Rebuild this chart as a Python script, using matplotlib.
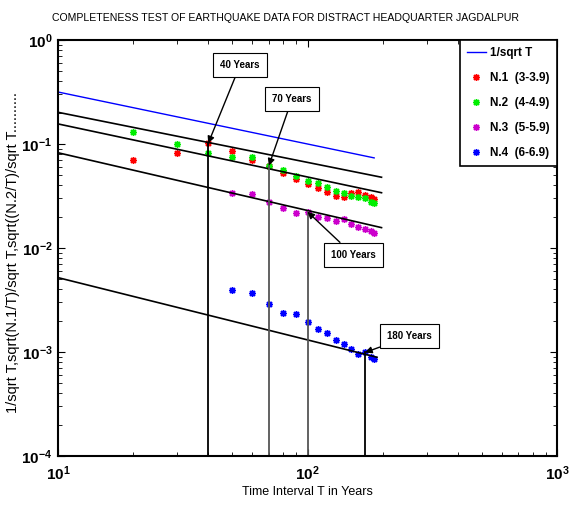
import matplotlib
matplotlib.use("Agg")
import matplotlib.pyplot as plt
import numpy as np
from matplotlib.ticker import LogLocator, FuncFormatter, NullFormatter

plt.rcParams['font.family'] = ['Liberation Sans', 'DejaVu Sans']
plt.rcParams['mathtext.fontset'] = 'custom'
plt.rcParams['mathtext.rm'] = 'Liberation Sans:bold'
plt.rcParams['mathtext.bf'] = 'Liberation Sans:bold'

# ---- data ----
T_ref = [10, 20, 30, 40, 50, 60, 70, 80, 90, 100, 110, 120, 130, 140, 150, 160, 170, 180, 185]
ref_vals = [1 / np.sqrt(t) for t in T_ref]

T_n12 = [20, 30, 40, 50, 60, 70, 80, 90, 100, 110, 120, 130, 140, 150, 160, 170, 180, 185]
n1 = [0.0702, 0.0813, 0.1015, 0.0863, 0.0702, 0.0619, 0.0523, 0.0461, 0.0412,
      0.0375, 0.0348, 0.0316, 0.0307, 0.0336, 0.0348, 0.0323, 0.0311, 0.0296]
n2 = [0.1314, 0.1000, 0.0826, 0.0745, 0.0745, 0.0614, 0.0562, 0.0492, 0.0444,
      0.0419, 0.0389, 0.0353, 0.0336, 0.0316, 0.0311, 0.0301, 0.0279, 0.0269]

T_n34 = [50, 60, 70, 80, 90, 100, 110, 120, 130, 140, 150, 160, 170, 180, 185]
n3 = [0.0340, 0.0330, 0.0279, 0.0244, 0.0216, 0.0223, 0.0197, 0.0193, 0.0183,
      0.0189, 0.0169, 0.0160, 0.0152, 0.0146, 0.0140]
n4 = [0.00394, 0.00366, 0.00290, 0.00236, 0.00230, 0.00196, 0.00168, 0.00151,
      0.00130, 0.00119, 0.00106, 0.000957, 0.00099, 0.00089, 0.00085]

# fitted straight lines (start/end values)
fit_T = [10, 198]
fit_lines = [[0.2018, 0.0479], [0.156, 0.0340], [0.0824, 0.0157], [0.00519, 0.00089]]
fit_T4 = [10, 190]

# completeness markers
comp_T = [40, 70, 100, 170]
comp_v = [0.1015, 0.0619, 0.0223, 0.00099]
comp_labels = ['40 Years', '70 Years', '100 Years', '180 Years']

labels = ['1/sqrt T', 'N.1  (3-3.9)', 'N.2  (4-4.9)', 'N.3  (5-5.9)', 'N.4  (6-6.9)']

# ---- plot ----
fig = plt.figure(figsize=(5.69, 5.09), dpi=100)
ax = fig.add_axes([58/569, 1-456/509, (557-58)/569, (456-40)/509])
ax.set_xscale('log')
ax.set_yscale('log')
ax.set_xlim(10, 1000)
ax.set_ylim(1e-4, 1)

ast = (8, 2, 0)
ax.plot(T_ref, ref_vals, color='#0000ff', lw=1, label=labels[0])
ax.plot(T_n12, n1, ls='none', marker=ast, ms=5, mew=1.0, color='#ff0000', label=labels[1])
ax.plot(T_n12, n2, ls='none', marker=ast, ms=5, mew=1.0, color='#00ee00', label=labels[2])
ax.plot(T_n34, n3, ls='none', marker=ast, ms=5, mew=1.0, color='#cc00cc', label=labels[3])
ax.plot(T_n34, n4, ls='none', marker=ast, ms=5, mew=1.0, color='#0000ff', label=labels[4])

for i, fl in enumerate(fit_lines):
    tt = fit_T4 if i == 3 else fit_T
    ax.plot(tt, fl, color='black', lw=1.2)

for t, v in zip(comp_T, comp_v):
    ax.plot([t, t], [1e-4, v], color='#555555' if t in (70, 100) else 'black', lw=1.3)

text_pos = [(0.365, 0.94), (0.469, 0.858), (0.592, 0.483), (0.705, 0.288)]
for (t, v), lab, (tx, ty) in zip(zip(comp_T, comp_v), comp_labels, text_pos):
    ax.annotate(lab, xy=(t, v), xycoords='data', xytext=(tx, ty), textcoords='axes fraction',
                fontsize=7, fontweight='bold', ha='center', va='center',
                bbox=dict(boxstyle='square,pad=0.75', fc='white', ec='black', lw=0.8),
                arrowprops=dict(arrowstyle='-|>', color='black', lw=1, mutation_scale=10,
                                shrinkA=0, shrinkB=0))

def fmt(v, pos):
    e = int(round(np.log10(v)))
    return r'$\mathbf{10^{%d}}$' % e

ax.xaxis.set_major_locator(LogLocator(base=10, numticks=10))
ax.yaxis.set_major_locator(LogLocator(base=10, numticks=10))
ax.xaxis.set_major_formatter(FuncFormatter(fmt))
ax.yaxis.set_major_formatter(FuncFormatter(fmt))
ax.xaxis.set_minor_formatter(NullFormatter())
ax.yaxis.set_minor_formatter(NullFormatter())
ax.tick_params(which='both', direction='in', top=True, right=True, labelsize=11)
ax.tick_params(which='major', length=5)
ax.tick_params(which='minor', length=3)
ax.tick_params(axis='x', pad=6)
ax.tick_params(axis='y', pad=4)
for s in ax.spines.values():
    s.set_linewidth(1.5)

ax.set_xlabel('Time Interval T in Years', fontsize=9, labelpad=2)
ax.set_ylabel('1/sqrt T,sqrt(N.1/T)/sqrt T,sqrt((N.2/T)/sqrt T..........', fontsize=10.5)
ax.yaxis.set_label_coords((20 - 58) / 499, 0.49)
fig.text(286/569, 1-18/509, 'COMPLETENESS TEST OF EARTHQUAKE DATA FOR DISTRACT HEADQUARTER JAGDALPUR',
         ha='center', va='center', fontsize=7.6)

leg = ax.legend(loc='upper right', bbox_to_anchor=(1.0, 1.0), frameon=True, fancybox=False,
                prop={'weight': 'bold', 'size': 8.5}, handlelength=1.6, borderpad=0.6,
                labelspacing=1.1, handletextpad=0.4, edgecolor='black', framealpha=1,
                borderaxespad=0)
leg.get_frame().set_linewidth(1.2)

fig.savefig('out.png', dpi=100)
